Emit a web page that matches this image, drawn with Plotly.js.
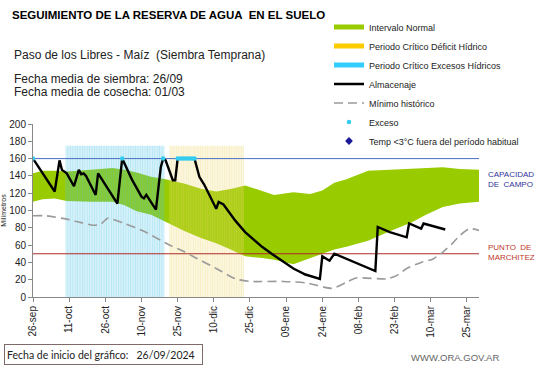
<!DOCTYPE html>
<html><head><meta charset="utf-8">
<script src="https://cdn.plot.ly/plotly-3.0.1.min.js"></script>
<style>html,body{margin:0;padding:0;background:#fff}#chart{width:541px;height:368px}</style>
</head><body><div id="chart"></div>
<script>
// ---- data ----
const xRange = ['2024-09-26', '2025-03-30'];
const tickDates = ['2024-09-26','2024-10-11','2024-10-26','2024-11-10','2024-11-25','2024-12-10','2024-12-25','2025-01-09','2025-01-24','2025-02-08','2025-02-23','2025-03-10','2025-03-25'];
const tickLabels = ['26-sep','11-oct','26-oct','10-nov','25-nov','10-dic','25-dic','09-ene','24-ene','08-feb','23-feb','10-mar','25-mar'];

const bandDates = ['2024-09-26','2024-09-30','2024-10-05','2024-10-10','2024-10-20','2024-10-29','2024-11-03','2024-11-08','2024-11-14','2024-11-20','2024-11-28','2024-12-05','2024-12-11','2024-12-17','2024-12-23','2024-12-30','2025-01-04','2025-01-12','2025-01-19','2025-01-24','2025-01-29','2025-02-03','2025-02-12','2025-02-21','2025-03-02','2025-03-08','2025-03-15','2025-03-22','2025-03-30'];
const normUpper = [143,146,146,145,147,149,147,144,139,136,131,125,122,125,129,123,118,121,119,123,132,136,146,147,148,149,150,148,147];
const normLower = [110,113,114,111,110,110,106,99,95,87,76,68,62,55,47,45,43,38,45,50,55,58,65,76,86,95,104,108,110];

const almDates = ['2024-09-26','2024-10-05','2024-10-07','2024-10-08','2024-10-10','2024-10-13','2024-10-15','2024-10-16','2024-10-17','2024-10-18','2024-10-22','2024-10-23','2024-10-31','2024-11-02','2024-11-06','2024-11-10','2024-11-11','2024-11-12','2024-11-16','2024-11-18','2024-11-19','2024-11-20','2024-11-23','2024-11-24','2024-11-25','2024-12-02','2024-12-04','2024-12-06','2024-12-11','2024-12-12','2024-12-14','2024-12-18','2024-12-19','2024-12-23','2024-12-30','2025-01-03','2025-01-07','2025-01-12','2025-01-17','2025-01-23','2025-01-24','2025-01-27','2025-01-29','2025-02-15','2025-02-16','2025-02-21','2025-02-28','2025-03-01','2025-03-06','2025-03-07','2025-03-16'];
const almVals = [160,122,158,147,143,128,147,142,143,140,118,143,108,160,136,116,114,118,101,150,160,158,135,135,160,160,139,130,102,110,107,91,88,75,58,50,42,33,26,21,47,42,50,30,81,75,69,85,79,85,78];

const minDates = ['2024-09-26','2024-10-01','2024-10-10','2024-10-16','2024-10-21','2024-10-24','2024-10-27','2024-11-03','2024-11-11','2024-11-21','2024-11-28','2024-12-02','2024-12-11','2024-12-19','2024-12-25','2025-01-08','2025-01-18','2025-01-28','2025-02-03','2025-02-07','2025-02-20','2025-02-24','2025-02-28','2025-03-06','2025-03-11','2025-03-15','2025-03-19','2025-03-22','2025-03-26','2025-03-30'];
const minVals = [94,94,90,86,83,84,91,85,76,61,52,46,33,21,18,18,16,10,17,22,21,25,33,40,44,52,62,71,79,77];

const excesoDates = ['2024-09-26','2024-11-02','2024-11-19','2024-11-25','2024-11-26','2024-11-27','2024-11-28','2024-11-29','2024-11-30','2024-12-01','2024-12-02'];
const excesoVals = [160,160,160,160,160,160,160,160,160,160,160];

const excesoPeriod = ['2024-10-10','2024-11-19'];
const deficitPeriod = ['2024-11-22','2024-12-22'];
const periodTop = 175;

const capacidadCampo = 160;
const puntoMarchitez = 50;

// ---- helpers ----
const DAY = 86400000;
function periodTrace(p, fg){
  const s = Date.parse(p[0]) - DAY/2, e = Date.parse(p[1]) + DAY/2;
  return {x:[s, e, e, s, s], y:[0, 0, periodTop, periodTop, 0], type:'scatter', mode:'lines', fill:'toself',
    fillcolor:'rgba(0,0,0,0)', line:{width:0}, showlegend:false, hoverinfo:'skip',
    fillpattern:{shape:'|', size:2.41, solidity:0.72, fgcolor:fg, bgcolor:'rgba(0,0,0,0)', fillmode:'overlay'}};
}

const traces = [
  {x:bandDates, y:normLower, type:'scatter', mode:'lines', line:{width:0,color:'#99CC00'}, showlegend:false, hoverinfo:'skip'},
  {x:bandDates, y:normUpper, type:'scatter', mode:'lines', fill:'tonexty', fillcolor:'#99CC00', line:{width:0,color:'#99CC00'}, showlegend:false, hoverinfo:'skip'},
  periodTrace(excesoPeriod, 'rgba(70,192,230,0.8)'),
  periodTrace(deficitPeriod, 'rgba(240,215,110,0.8)'),
  {x:xRange, y:[capacidadCampo,capacidadCampo], type:'scatter', mode:'lines', line:{color:'#4A6FC2',width:1}, showlegend:false, hoverinfo:'skip'},
  {x:xRange, y:[puntoMarchitez,puntoMarchitez], type:'scatter', mode:'lines', line:{color:'#B02A2A',width:1}, showlegend:false, hoverinfo:'skip'},
  {x:minDates, y:minVals, type:'scatter', mode:'lines', name:'Mínimo histórico', legendrank:5, line:{color:'#9A9A9A',width:1.6,dash:'9px,5px',shape:'spline',smoothing:0.6}},
  {x:almDates, y:almVals, type:'scatter', mode:'lines', name:'Almacenaje', legendrank:4, line:{color:'#000',width:2.4}},
  {x:excesoDates, y:excesoVals, type:'scatter', mode:'markers', name:'Exceso', legendrank:6, marker:{color:'#33CCEE',size:4.5,symbol:'circle'}},
  // legend-only entries
  {x:[null], y:[null], type:'scatter', mode:'lines', name:'Intervalo Normal', legendrank:1, line:{color:'#99CC00',width:5}},
  {x:[null], y:[null], type:'scatter', mode:'lines', name:'Periodo Crítico Déficit Hídrico', legendrank:2, line:{color:'#FFCC00',width:5}},
  {x:[null], y:[null], type:'scatter', mode:'lines', name:'Periodo Crítico Excesos Hídricos', legendrank:3, line:{color:'#33CCFF',width:5}},
  {x:[null], y:[null], type:'scatter', mode:'markers', name:'Temp <3°C fuera del período habitual', legendrank:7, marker:{color:'#1A1A99',size:6,symbol:'diamond'}}
];

const F = 'Liberation Sans, Arial, sans-serif';
const L = 33, T = 117, PW = 446, PH = 180;
const px = v => (v - L) / PW, py = v => (297 - v) / PH;

const layout = {
  width:541, height:368, margin:{l:L, r:62, t:T, b:71}, paper_bgcolor:'#fff', plot_bgcolor:'#fff',
  showlegend:true,
  font:{family:F, color:'#222'},
  title:{text:'<b>SEGUIMIENTO DE LA RESERVA DE AGUA  EN EL SUELO</b>', font:{family:F,size:11.5,color:'#000'},
    xref:'container', yref:'container', x:12/541, xanchor:'left', y:1-14.7/368, yanchor:'middle'},
  xaxis: {type:'date', range:xRange, tickvals:tickDates, ticktext:tickLabels, tickangle:-90,
    ticks:'outside', ticklen:4, tickcolor:'#888', showline:true, linecolor:'#888', linewidth:1,
    showgrid:false, zeroline:false, tickfont:{family:F,size:10,color:'#222'}, fixedrange:true},
  yaxis: {range:[0,200], dtick:20, tick0:0, ticks:'outside', ticklen:4, tickcolor:'#888', showline:true, linecolor:'#888', linewidth:1,
    showgrid:false, zeroline:false, tickfont:{family:F,size:10,color:'#222'},
    title:{text:'Milímetros', font:{family:F,size:7,color:'#222'}, standoff:2}, fixedrange:true},
  legend:{x:px(329), y:py(1), xanchor:'left', yanchor:'top', bgcolor:'rgba(0,0,0,0)', borderwidth:0,
    font:{family:F,size:9,color:'#222'}, traceorder:'normal', itemwidth:30},
  annotations:[
    {text:'Paso de los Libres - Maíz  (Siembra Temprana)', xref:'paper', yref:'paper', x:px(12), y:py(45), xanchor:'left', yanchor:'middle', showarrow:false, font:{family:F,size:12,color:'#222'}},
    {text:'Fecha media de siembra: 26/09', xref:'paper', yref:'paper', x:px(12), y:py(70.5), xanchor:'left', yanchor:'middle', showarrow:false, font:{family:F,size:12,color:'#222'}},
    {text:'Fecha media de cosecha: 01/03', xref:'paper', yref:'paper', x:px(12), y:py(83.2), xanchor:'left', yanchor:'middle', showarrow:false, font:{family:F,size:12,color:'#222'}},
    {text:'CAPACIDAD<br>DE  CAMPO', xref:'paper', yref:'paper', x:px(486), y:py(175), xanchor:'left', yanchor:'middle', align:'left', showarrow:false, font:{family:F,size:8,color:'#333399'}},
    {text:'PUNTO  DE<br>MARCHITEZ', xref:'paper', yref:'paper', x:px(486), y:py(251), xanchor:'left', yanchor:'middle', align:'left', showarrow:false, font:{family:F,size:8,color:'#C0392B'}},
    {text:'Fecha de inicio del gráfico:   26/09/2024', xref:'paper', yref:'paper', x:px(4), y:py(356.7), xanchor:'left', yanchor:'middle', align:'left', showarrow:false,
      width:193, height:15, bordercolor:'#7F6A6A', borderwidth:1, borderpad:2, font:{family:'Lato, Liberation Sans, sans-serif',size:10.5,color:'#222'}},
    {text:'WWW.ORA.GOV.AR', xref:'paper', yref:'paper', x:px(454.5), y:py(360), xanchor:'center', yanchor:'middle', showarrow:false, font:{family:F,size:9.5,color:'#666'}}
  ]
};
Plotly.newPlot('chart', traces, layout, {displayModeBar:false, staticPlot:true});
</script></body></html>
